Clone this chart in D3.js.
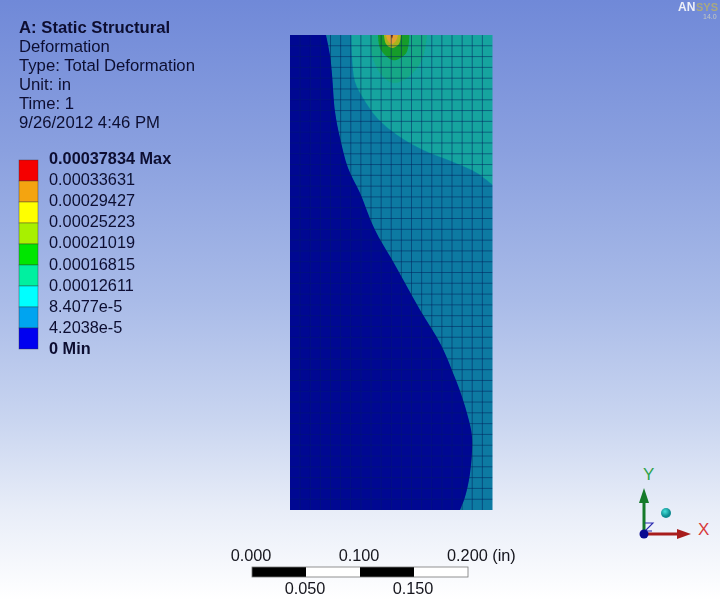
<!DOCTYPE html>
<html><head><meta charset="utf-8">
<script src="https://cdnjs.cloudflare.com/ajax/libs/d3/7.8.5/d3.min.js"></script>
<style>html,body{margin:0;padding:0;background:#fff}svg{display:block}text{font-family:"Liberation Sans",Arial,sans-serif}</style>
</head><body><svg id="c" width="720" height="600"></svg>
<script>
const titleLines = ["A: Static Structural","Deformation","Type: Total Deformation","Unit: in","Time: 1","9/26/2012 4:46 PM"];
const legendLabels = ["0.00037834 Max","0.00033631","0.00029427","0.00025223","0.00021019","0.00016815","0.00012611","8.4077e-5","4.2038e-5","0 Min"];
const legendColors = ["#f50000","#f4a410","#ffff00","#a8f000","#00e600","#00f0a0","#00ffff","#00a4f0","#0000f0"];
const scaleTicks = [0,0.05,0.1,0.15,0.2];
const modelWidth = 0.1875, modelHeight = 0.4398, meshCols = 20, meshRows = 44;
const boundaryLow = [[.0333,.4398],[.0370,.4213],[.0389,.4028],[.0417,.3685],[.0463,.3444],[.0537,.3167],[.0648,.2935],[.0787,.2593],[.0972,.2269],[.1204,.1852],[.1398,.1528],[.1528,.1222],[.1593,.1046],[.1648,.0861],[.1685,.0676],[.1667,.0343],[.1620,.0120],[.1574,0]];
const boundaryMid = [[.0565,.4398],[.0574,.4185],[.0602,.3963],[.0676,.3815],[.0806,.3630],[.0991,.3472],[.1231,.3333],[.1509,.3222],[.1731,.3120],[.1875,.3009]];
const contourOuter = [[.0741,.4398],[.0759,.4213],[.0833,.4046],[.0954,.3954],[.1083,.4000],[.1222,.4167],[.1269,.4398]];
const contourGreen = [[.0815,.4398],[.0838,.4265],[.0954,.4165],[.1075,.4230],[.1105,.4398]];
const contourOlive = [[.0870,.4398],[.0889,.4315],[.0944,.4278],[.1009,.4315],[.1028,.4398]];
const contourOrange = [[.0889,.4398],[.0907,.4343],[.0944,.4315],[.0981,.4343],[.1000,.4398]];
const contourTip = [[.0935,.4398],[.0944,.4365],[.0954,.4398]];

const svg = d3.select("#c");
const defs = svg.append("defs");
const bg = defs.append("linearGradient").attr("id","bg").attr("x1",0).attr("y1",0).attr("x2",0).attr("y2",1);
[[0,"#7089d8"],[.25,"#8aa0df"],[.5,"#a9bbe8"],[.7,"#c9d5f0"],[.85,"#e8edf8"],[1,"#ffffff"]].forEach(s=>bg.append("stop").attr("offset",s[0]).attr("stop-color",s[1]));
const bl = defs.append("filter").attr("id","soft").attr("x","-5%").attr("y","-5%").attr("width","110%").attr("height","110%");
bl.append("feGaussianBlur").attr("stdDeviation",0.6);
const bl3 = defs.append("filter").attr("id","meshSoft").attr("x","-5%").attr("y","-5%").attr("width","110%").attr("height","110%");
bl3.append("feGaussianBlur").attr("stdDeviation",0.5);
const bl2 = defs.append("filter").attr("id","txt").attr("x","-5%").attr("y","-20%").attr("width","110%").attr("height","140%");
bl2.append("feGaussianBlur").attr("stdDeviation",0.25);
const sph = defs.append("radialGradient").attr("id","sph").attr("cx",.4).attr("cy",.35);
sph.append("stop").attr("offset",0).attr("stop-color","#45e0d8");
sph.append("stop").attr("offset",1).attr("stop-color","#0d8a90");
defs.append("clipPath").attr("id","clip").append("rect").attr("x",290).attr("y",35).attr("width",202.5).attr("height",475);

svg.append("rect").attr("width",720).attr("height",600).attr("fill","url(#bg)");

const x = d3.scaleLinear().domain([0,modelWidth]).range([290,492.5]);
const y = d3.scaleLinear().domain([0,modelHeight]).range([510,35]);
const curve = d3.line().x(d=>x(d[0])).y(d=>y(d[1])).curve(d3.curveCatmullRom);
const model = svg.append("g").attr("clip-path","url(#clip)");
const regions = model.append("g").attr("filter","url(#soft)");
const P=(a,b)=>"L"+x(a)+","+y(b);
const lowPath = curve(boundaryLow)+P(0,0)+P(-.01,0)+P(-.01,modelHeight+.01)+P(.0333,modelHeight+.01)+"Z";
regions.append("rect").attr("x",280).attr("y",25).attr("width",225).attr("height",495).attr("fill","#0c7aa2");
regions.append("path").attr("d",lowPath).attr("fill","#040a92");
regions.append("path").attr("d",curve(boundaryMid)+P(modelWidth+.01,.3009)+P(modelWidth+.01,modelHeight+.01)+P(.0565,modelHeight+.01)+"Z").attr("fill","#12a49f");
const cap=(pts,col)=>regions.append("path").attr("d",curve(pts)+P(pts[pts.length-1][0],modelHeight+.01)+P(pts[0][0],modelHeight+.01)+"Z").attr("fill",col);
cap(contourOuter,"#14a886");
cap(contourGreen,"#129c2c");
cap(contourOlive,"#a8b41c");
cap(contourOrange,"#e2a030");
cap(contourTip,"#703020");

const mesh = model.append("g").attr("stroke","#04225c").attr("stroke-opacity",.52).attr("stroke-width",1).attr("filter","url(#meshSoft)");
mesh.selectAll(".v").data(d3.range(1,meshCols)).join("line").attr("x1",d=>x(d*modelWidth/meshCols)).attr("x2",d=>x(d*modelWidth/meshCols)).attr("y1",35).attr("y2",510);
mesh.selectAll(".h").data(d3.range(1,meshRows)).join("line").attr("y1",d=>y(d*modelHeight/meshRows)).attr("y2",d=>y(d*modelHeight/meshRows)).attr("x1",290).attr("x2",492.5);
model.append("path").attr("d",lowPath).attr("fill","#040a92").attr("fill-opacity",.35).attr("filter","url(#soft)");

const ink = "#0c1030";
const tg = svg.append("g").attr("filter","url(#txt)").attr("fill",ink);
const ty = d3.scalePoint().domain(d3.range(titleLines.length)).range([33,128]);
tg.selectAll("text").data(titleLines).join("text").attr("x",19).attr("y",(d,i)=>ty(i)).attr("font-size",16.7).attr("font-weight",(d,i)=>i==0?"bold":"normal").text(d=>d);

const ly = d3.scaleLinear().domain([0,legendColors.length]).range([160,349]);
svg.append("g").selectAll("rect").data(legendColors).join("rect").attr("x",19).attr("width",19).attr("y",(d,i)=>ly(i)).attr("height",(d,i)=>ly(i+1)-ly(i)).attr("fill",d=>d).attr("stroke","#30303a").attr("stroke-opacity",.55).attr("stroke-width",.7);
const ll = d3.scaleLinear().domain([0,legendLabels.length-1]).range([164,354]);
tg.append("g").selectAll("text").data(legendLabels).join("text").attr("x",49).attr("y",(d,i)=>ll(i)).attr("font-size",16.3).attr("font-weight",(d,i)=>(i==0||i==legendLabels.length-1)?"bold":"normal").text(d=>d);

const sx = d3.scaleLinear().domain([0,0.2]).range([252,468]);
const sb = svg.append("g");
d3.pairs(scaleTicks).forEach((p,i)=>sb.append("rect").attr("x",sx(p[0])).attr("y",567).attr("width",sx(p[1])-sx(p[0])).attr("height",10).attr("fill",i%2?"#ffffff":"#000000"));
sb.append("rect").attr("x",sx(0)).attr("y",567).attr("width",sx(.2)-sx(0)).attr("height",10).attr("fill","none").attr("stroke","#777").attr("stroke-width",.8);
const stg = svg.append("g").attr("filter","url(#txt)").attr("fill","#14141c").attr("font-size",16.3);
scaleTicks.forEach((t,i)=>{
  const lab = t.toFixed(3);
  if(i==4) stg.append("text").attr("x",sx(t)-21).attr("y",561).text(lab+" (in)");
  else stg.append("text").attr("x",sx(t)-1).attr("y",i%2?594:561).attr("text-anchor","middle").text(lab);
});

const tr = svg.append("g");
const ax=644, ay=534;
tr.append("line").attr("x1",ax).attr("y1",ay).attr("x2",ax).attr("y2",500).attr("stroke","#157a2a").attr("stroke-width",3);
tr.append("path").attr("d",`M${ax-5},${503}L${ax},${488}L${ax+5},${503}Z`).attr("fill","#157a2a");
tr.append("line").attr("x1",ax).attr("y1",ay).attr("x2",680).attr("y2",ay).attr("stroke","#a81c1c").attr("stroke-width",3);
tr.append("path").attr("d",`M${677},${ay-5}L${691},${ay}L${677},${ay+5}Z`).attr("fill","#a81c1c");
tr.append("path").attr("d",`M${ax+1},${523}H${653}L${645},${531}H${652}`).attr("fill","none").attr("stroke","#2a2ab0").attr("stroke-width",1.1);
tr.append("circle").attr("cx",ax).attr("cy",ay).attr("r",4.5).attr("fill","#0a0a90");
tr.append("circle").attr("cx",666).attr("cy",513).attr("r",5).attr("fill","url(#sph)");
tr.append("text").attr("x",643).attr("y",480).attr("font-size",17).attr("fill","#2fa24a").text("Y");
tr.append("text").attr("x",698).attr("y",535).attr("font-size",17).attr("fill","#d83a3a").text("X");

const logo = svg.append("g").attr("filter","url(#txt)");
logo.append("text").attr("x",678).attr("y",11).attr("font-size",12).attr("font-weight","bold").attr("fill","#eef0f8").text("AN");
logo.append("text").attr("x",696).attr("y",11).attr("font-size",11).attr("font-weight","bold").attr("fill","#a8a880").text("SYS");
logo.append("text").attr("x",703).attr("y",19).attr("font-size",7).attr("fill","#c4c8c0").text("14.0");
</script></body></html>
